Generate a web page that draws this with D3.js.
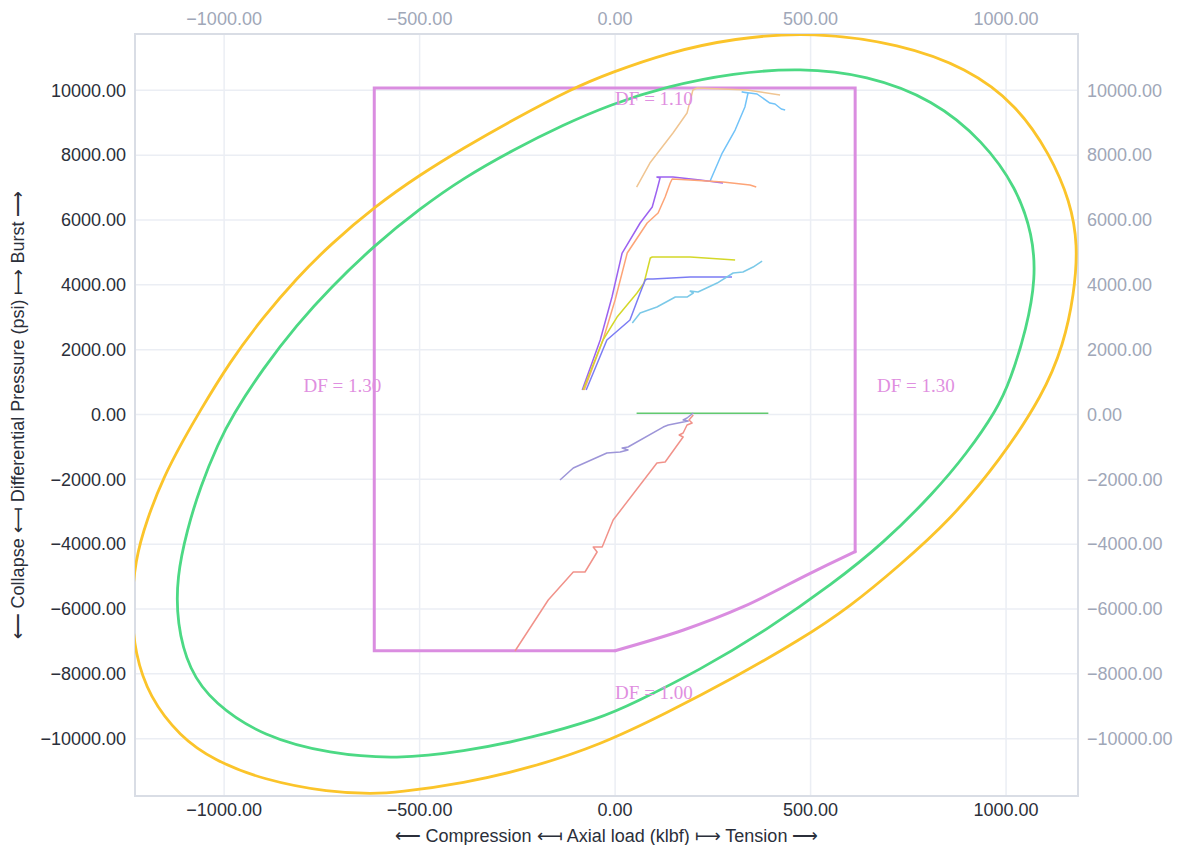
<!DOCTYPE html>
<html><head><meta charset="utf-8">
<script src="https://cdn.jsdelivr.net/npm/d3@7"></script>
<style>body{margin:0;background:#fff}svg{display:block}</style>
</head><body>
<svg id="c" width="1179" height="845"></svg>
<script>
// ---- data (axial load klbf, differential pressure psi) ----
const xTicks = [-1000, -500, 0, 500, 1000];
const yTicks = [-10000, -8000, -6000, -4000, -2000, 0, 2000, 4000, 6000, 8000, 10000];

const ellipseOuter = [
 [-1070,-56],[-985,1641],[-900,3007],[-814,4210],[-729,5237],[-614,6422],[-499,7397],[-388,8220],
 [-260,9099],[-107,10071],[-13,10534],[132,11151],[303,11613],[507,11800],[729,11430],[900,10688],
 [1027,9556],[1113,8014],[1164,6576],[1184,5238],[1174,3695],[1147,2153],[1095,611],[985,-1403],
 [857,-3254],[729,-4642],[601,-5928],[473,-6956],[303,-8128],[132,-9207],[-38,-10194],[-217,-10903],
 [-388,-11376],[-558,-11660],[-618,-11700],[-729,-11660],[-900,-11274],[-1027,-10657],[-1113,-9938],
 [-1192,-8705],[-1228,-7366],[-1238,-6030],[-1228,-4488],[-1198,-3254],[-1155,-1919],[-1100,-694]
];
const ellipseInner = [
 [-980,-56],[-900,1434],[-814,2770],[-729,3902],[-614,5237],[-499,6354],[-388,7295],[-260,8168],
 [-132,8939],[-13,9556],[132,10123],[303,10534],[473,10690],[644,10472],[814,9710],[942,8427],
 [1027,6986],[1068,5546],[1076,4210],[1053,2668],[1010,1024],[976,139],[900,-1197],[814,-2431],
 [686,-3973],[558,-5207],[388,-6647],[217,-7881],[47,-8908],[-38,-9371],[-217,-9988],[-388,-10401],
 [-558,-10630],[-729,-10470],[-900,-9938],[-1027,-8908],[-1090,-7881],[-1121,-6440],[-1121,-5003],
 [-1095,-3563],[-1061,-2227],[-1015,-888]
];
const dfStraight = [[0,-7286],[-616,-7286],[-616,10071],[614,10071],[614,-4232]];
const dfCurve = [[614,-4232],[499,-4898],[328,-5928],[175,-6647],[0,-7286]];
const dfLabels = [
 {text:"DF = 1.10", x:0, y:9760},
 {text:"DF = 1.30", x:-797, y:895},
 {text:"DF = 1.30", x:670, y:895},
 {text:"DF = 1.00", x:0, y:-8560}
];
const loadNames = ["tan","sky","violet","salmon","olive","periwinkle","cyan","green","lavender","red"];
const loadColors = ["#f0c592","#72c3f8","#9c62f0","#fda477","#d4d829","#7b7cf4","#7bc9e8","#62c96f","#9d95d8","#f1928a"];
const loadTan = [[55,7017],[89,7757],[148,8683],[184,9300],[199,10009],[210,10071],[338,10009],[422,9855]];
const loadSky = [[243,7202],[274,8066],[307,8775],[332,9485],[340,9917],[325,9948],[363,9886],[396,9608],[409,9577],[425,9423],[435,9392]];
const loadViolet = [[-84,756],[-38,2298],[-8,3624],[18,4981],[64,5907],[95,6400],[107,6925],[115,7295],[107,7326],[148,7326],[217,7234],[276,7141]];
const loadSalmon = [[-79,756],[-31,2298],[0,3532],[31,4981],[82,5907],[110,6215],[128,6709],[141,7141],[146,7264],[192,7234],[276,7172],[345,7079],[361,7017]];
const loadOlive = [[-82,756],[-31,2298],[5,3007],[56,3748],[74,4056],[90,4827],[95,4858],[192,4858],[269,4796],[307,4766]];
const loadPeriwinkle = [[-74,756],[-21,2298],[38,2915],[64,3748],[77,4149],[82,4180],[97,4180],[192,4241],[299,4241]];
const loadCyan = [[44,2822],[64,3131],[107,3316],[154,3624],[184,3624],[200,3748],[192,3809],[212,3779],[261,4056],[302,4365],[327,4396],[353,4550],[376,4735]];
const loadGreen = [[55,40],[200,40],[392,40]];
const loadLavender = [[200,46],[184,-108],[174,-170],[187,-200],[136,-324],[123,-386],[33,-1002],[18,-1033],[33,-1095],[13,-1157],[-21,-1188],[-107,-1650],[-141,-2020]];
const loadRed = [[200,-15],[189,-170],[197,-262],[184,-324],[174,-571],[164,-632],[174,-694],[128,-1465],[107,-1496],[-5,-3254],[-33,-4087],[-56,-4087],[-46,-4241],[-77,-4858],[-107,-4858],[-171,-5722],[-256,-7295]];
const loadSeries = [loadTan,loadSky,loadViolet,loadSalmon,loadOlive,loadPeriwinkle,loadCyan,loadGreen,loadLavender,loadRed];

// ---- chart ----
const svg = d3.select("#c");
const L=135,R=1078,T=34,B=796;
const x = d3.scaleLinear().domain([-1228,1184]).range([L,R]);
const y = d3.scaleLinear().domain([-11767,11737]).range([B,T]);
const fmt = d3.format(".2f");
const font = "'Liberation Sans', Arial, sans-serif";

svg.append("defs").append("clipPath").attr("id","clip")
  .append("rect").attr("x",L).attr("y",T).attr("width",R-L).attr("height",B-T);

const grid = svg.append("g");
grid.selectAll(".gx").data(xTicks).join("line")
  .attr("x1",d=>x(d)).attr("x2",d=>x(d)).attr("y1",T).attr("y2",B)
  .attr("stroke","#ebeef4").attr("stroke-width",1.5);
grid.selectAll(".gy").data(yTicks).join("line")
  .attr("y1",d=>y(d)).attr("y2",d=>y(d)).attr("x1",L).attr("x2",R)
  .attr("stroke","#ebeef4").attr("stroke-width",1.5);

svg.append("rect").attr("x",L).attr("y",T).attr("width",R-L).attr("height",B-T)
  .attr("fill","none").attr("stroke","#d9dde5").attr("stroke-width",2);

const plot = svg.append("g").attr("clip-path","url(#clip)");
const line = d3.line().x(d=>x(d[0])).y(d=>y(d[1]));
const curve = d3.line().x(d=>x(d[0])).y(d=>y(d[1])).curve(d3.curveCatmullRom.alpha(0.5));
const closed = d3.line().x(d=>x(d[0])).y(d=>y(d[1])).curve(d3.curveBasisClosed);

plot.append("path").attr("d",line(dfStraight)).attr("fill","none")
  .attr("stroke","#da8de0").attr("stroke-width",3).attr("stroke-linejoin","miter").attr("stroke-linecap","round");
plot.append("path").attr("d",curve(dfCurve)).attr("fill","none")
  .attr("stroke","#da8de0").attr("stroke-width",3).attr("stroke-linecap","round");
plot.append("path").attr("d",closed(ellipseOuter)).attr("fill","none")
  .attr("stroke","#fbc42a").attr("stroke-width",2.8);
plot.append("path").attr("d",closed(ellipseInner)).attr("fill","none")
  .attr("stroke","#4cd984").attr("stroke-width",2.8);

loadSeries.forEach((s,i)=>{
  plot.append("path").attr("d",line(s)).attr("fill","none")
    .attr("stroke",loadColors[i]).attr("stroke-width",1.5).attr("stroke-linejoin","round")
    .attr("class","load-"+loadNames[i]);
});

svg.selectAll(".dfl").data(dfLabels).join("text")
  .attr("x",d=>x(d.x)).attr("y",d=>y(d.y)).attr("dy","0.35em")
  .attr("text-anchor","start")
  .attr("font-family","'Liberation Serif','Times New Roman',serif").attr("font-size",19)
  .attr("fill","#df8fe0").text(d=>d.text);

// tick labels
const tl = svg.append("g").attr("font-family",font).attr("font-size",18);
tl.selectAll(".bx").data(xTicks).join("text").attr("x",d=>x(d)).attr("y",B+14).attr("dy","0.35em")
  .attr("text-anchor","middle").attr("fill","#2b2f3a").text(d=>fmt(d));
tl.selectAll(".tx").data(xTicks).join("text").attr("x",d=>x(d)).attr("y",T-15).attr("dy","0.35em")
  .attr("text-anchor","middle").attr("fill","#a0a7b8").text(d=>fmt(d));
tl.selectAll(".ly").data(yTicks).join("text").attr("x",L-9).attr("y",d=>y(d)).attr("dy","0.35em")
  .attr("text-anchor","end").attr("fill","#2b2f3a").text(d=>fmt(d));
tl.selectAll(".ry").data(yTicks).join("text").attr("x",R+9).attr("y",d=>y(d)).attr("dy","0.35em")
  .attr("text-anchor","start").attr("fill","#a0a7b8").text(d=>fmt(d));

svg.append("text").attr("x",(L+R)/2).attr("y",836).attr("dy","0.35em").attr("text-anchor","middle")
  .attr("font-family",font).attr("font-size",18).attr("fill","#2b2f3a")
  .text("⟵ Compression ⟻ Axial load (klbf) ⟼ Tension ⟶");
svg.append("text").attr("transform",`translate(18,${(T+B)/2}) rotate(-90)`).attr("dy","0.35em")
  .attr("text-anchor","middle").attr("font-family",font).attr("font-size",18).attr("fill","#2b2f3a")
  .text("⟵ Collapse ⟻ Differential Pressure (psi) ⟼ Burst ⟶");
</script>
</body></html>
